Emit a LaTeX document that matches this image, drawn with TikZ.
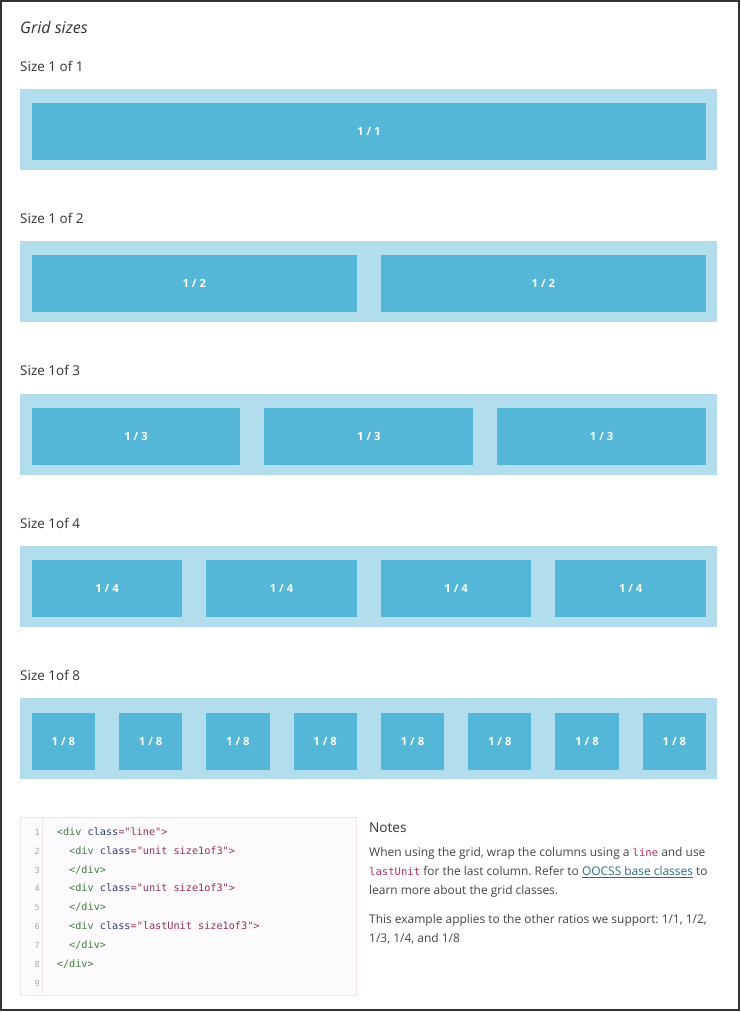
\documentclass[tikz,border=0pt]{standalone}
\usepackage{fontspec}
\setmainfont{Open Sans}
\newfontfamily\codefont{DejaVu Sans Mono}
\usetikzlibrary{calc}
\definecolor{outerblue}{HTML}{B2DDEC}
\definecolor{innerblue}{HTML}{55B7D8}
\definecolor{txt}{HTML}{333333}
\definecolor{bodytxt}{HTML}{444444}
\definecolor{tagc}{HTML}{3C7F3C}
\definecolor{attrc}{HTML}{303D7A}
\definecolor{valc}{HTML}{99304E}
\definecolor{lnc}{HTML}{AAAAAA}
\definecolor{codebg}{HTML}{FEFBFE}
\definecolor{codebd}{HTML}{F0E2F0}
\definecolor{inlinec}{HTML}{C0305A}
\definecolor{linkc}{HTML}{2B7080}
\definecolor{framec}{HTML}{333333}
\newcommand{\inl}[1]{{\codefont\fontsize{10.6}{13}\selectfont\color{inlinec}#1}}
\newcommand{\tg}[1]{{\color{tagc}#1}}
\newcommand{\at}[1]{{\color{attrc}#1}}
\newcommand{\vl}[1]{{\color{valc}#1}}
\frenchspacing
\begin{document}
\frenchspacing
\begin{tikzpicture}[x=1pt,y=-1pt,
  outerbox/.style={draw=none,fill=outerblue,inner sep=0pt,anchor=north west},
  cellbox/.style={draw=none,fill=innerblue,inner sep=0pt,text=white,
     font=\fontsize{11.3}{13}\selectfont\bfseries},
  sectitle/.style={anchor=base west,inner sep=0pt,text=txt,font=\fontsize{13.5}{16}\selectfont},
  bodytext/.style={anchor=base west,inner sep=0pt,text=bodytxt,font=\fontsize{11.95}{15}\selectfont\frenchspacing},
  codebox/.style={draw=codebd,fill=codebg,line width=1pt,inner sep=0pt,anchor=north west},
  lnum/.style={anchor=base east,inner sep=0pt,text=lnc,font=\codefont\fontsize{8.5}{10}\selectfont},
  codetxt/.style={anchor=base west,inner sep=0pt,font=\codefont\fontsize{10.2}{12}\selectfont}]
\useasboundingbox (0,0) rectangle (740,1012);
\fill[white] (0,0) rectangle (740,1012);
\draw[framec,line width=2pt] (1,1) rectangle (738.8,1010.2);

\node[anchor=base west,inner sep=0pt,text=txt,font=\fontsize{16}{19}\selectfont\itshape] (heading) at (20,33.3) {Grid sizes};

\foreach \k/\n/\ttl in {1/1/{Size 1 of 1},2/2/{Size 1 of 2},3/3/{Size 1of 3},4/4/{Size 1of 4},5/8/{Size 1of 8}}{
  \pgfmathsetmacro\top{88.5+152.4*(\k-1)}
  \node[sectitle] (t\k) at (20,\top-17.5) {\ttl};
  \node[outerbox,minimum width=697pt,minimum height=81pt] (r\k) at (20,\top) {};
  \pgfmathsetmacro\w{(674.3-24*(\n-1))/\n}
  \foreach \i in {1,...,\n}{
    \pgfmathsetmacro\cx{31.7+(\i-1)*(\w+24)+\w/2}
    \node[cellbox,minimum width=\w pt,minimum height=57pt] (c\k-\i) at (\cx,\top+43) {1 / \n};
  }
}

% code box
\node[codebox,minimum width=336pt,minimum height=178pt] (code) at (20,817) {};
\draw[codebd,line width=1pt] ($(code.north west)+(22.7,0)$) -- ($(code.south west)+(22.7,0)$);
\foreach \i in {1,...,9}{
  \node[lnum] (ln\i) at (40,835.2+18.9*\i-18.9) {\i};
}
\node[codetxt] (cl1) at (56.7,835.2) {\tg{<div} \at{class}\vl{="line">}};
\node[codetxt] (cl2) at (69,854.1) {\tg{<div} \at{class}\vl{="unit size1of3">}};
\node[codetxt] (cl3) at (69,873.0) {\tg{</div>}};
\node[codetxt] (cl4) at (69,891.9) {\tg{<div} \at{class}\vl{="unit size1of3">}};
\node[codetxt] (cl5) at (69,910.8) {\tg{</div>}};
\node[codetxt] (cl6) at (69,929.7) {\tg{<div} \at{class}\vl{="lastUnit size1of3">}};
\node[codetxt] (cl7) at (69,948.6) {\tg{</div>}};
\node[codetxt] (cl8) at (56.7,967.5) {\tg{</div>}};

% notes
\node[anchor=base west,inner sep=0pt,text=txt,font=\fontsize{13.6}{17}\selectfont] (notes) at (369,832) {Notes};
\node[bodytext] (p1) at (369,856.5) {When using the grid, wrap the columns using a \inl{line} and use};
\node[bodytext] (p2) at (369,875.5) {\inl{lastUnit} for the last column. Refer to {\color{linkc}\underline{OOCSS base classes}} to};
\node[bodytext] (p3) at (369,894) {learn more about the grid classes.};
\node[bodytext] (p4) at (369,923.5) {This example applies to the other ratios we support: 1/1, 1/2,};
\node[bodytext] (p5) at (369,942) {1/3, 1/4, and 1/8};
\end{tikzpicture}
\end{document}
